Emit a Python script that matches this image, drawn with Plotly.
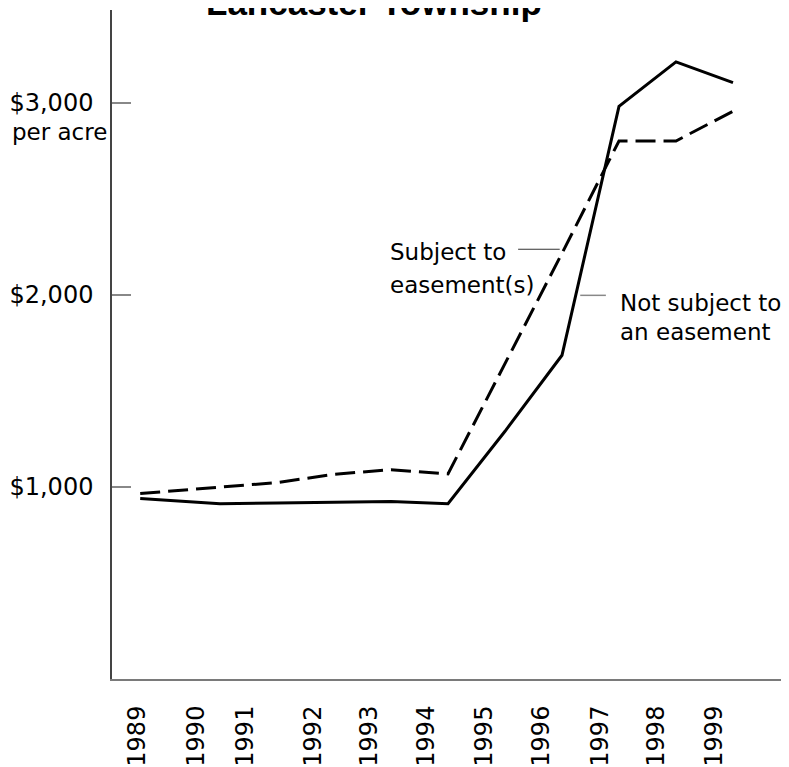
import plotly.graph_objects as go

# ---- data ----
years = ["1989", "1990", "1991", "1992", "1993", "1994", "1995", "1996", "1997", "1998", "1999"]
year_pos = [1988.6, 1990, 1991, 1992, 1993, 1994, 1995, 1996, 1997, 1998, 1999]
not_subject = [940, 913, 917, 920, 925, 913, 1290, 1686, 2982, 3214, 3106]
subject = [966, 997, 1023, 1066, 1090, 1068, 1644, 2217, 2802, 2802, 2957]
tick_pos = [1988.54, 1989.58, 1990.44, 1991.63, 1992.61, 1993.61, 1994.63, 1995.63, 1996.67, 1997.65, 1998.67]
y_ticks = [1000, 2000, 3000]
y_tick_text = ["$1,000", "$2,000", "$3,000"]

FONT = "DejaVu Sans"

fig = go.Figure()
fig.add_trace(go.Scatter(x=year_pos, y=subject, mode="lines",
                         line=dict(color="black", width=3, dash="20px,8px"),
                         name="Subject to easement(s)", showlegend=False))
fig.add_trace(go.Scatter(x=year_pos, y=not_subject, mode="lines",
                         line=dict(color="black", width=3),
                         name="Not subject to an easement", showlegend=False))

fig.update_layout(
    width=789, height=767, autosize=False,
    margin=dict(l=104, r=13, t=2, b=96),
    plot_bgcolor="white", paper_bgcolor="white",
    font=dict(family=FONT, size=24, color="black"),
)
fig.update_xaxes(range=[1988.105, 1999.895], showgrid=False, zeroline=False,
                 showline=True, linecolor="#7a7a7a", linewidth=2,
                 tickmode="array", tickvals=tick_pos, ticktext=years,
                 tickangle=-90, ticks="", ticklabelstandoff=15,
                 tickfont=dict(family=FONT, size=24, color="black"))
fig.update_yaxes(range=[0, 3484], showgrid=False, zeroline=False,
                 showline=True, linecolor="#444444", linewidth=1.5,
                 tickmode="array", tickvals=y_ticks, ticktext=y_tick_text,
                 ticks="inside", ticklen=19, tickwidth=1.5, tickcolor="#888888",
                 ticklabelstandoff=12,
                 tickfont=dict(family=FONT, size=24, color="black"))

# title (partly cut off at top, as in the reference)
fig.add_annotation(text="<b>Lancaster Township</b>", xref="paper", yref="paper",
                   x=0.39, y=1.011, xanchor="center", yanchor="middle", showarrow=False,
                   font=dict(family="Liberation Sans", size=35, color="black"))
fig.add_annotation(text="per acre", xref="paper", yref="y", x=-0.152, y=2849,
                   xanchor="left", yanchor="middle", showarrow=False,
                   font=dict(family=FONT, size=23, color="black"))

# series labels
fig.add_annotation(text="Subject to", x=1992.95, y=2222, xanchor="left", yanchor="middle",
                   showarrow=False, font=dict(family=FONT, size=23, color="black"))
fig.add_annotation(text="easement(s)", x=1992.95, y=2050, xanchor="left", yanchor="middle",
                   showarrow=False, font=dict(family=FONT, size=23, color="black"))
fig.add_annotation(text="Not subject to", x=1996.98, y=1957, xanchor="left", yanchor="middle",
                   showarrow=False, font=dict(family=FONT, size=23, color="black"))
fig.add_annotation(text="an easement", x=1996.98, y=1806, xanchor="left", yanchor="middle",
                   showarrow=False, font=dict(family=FONT, size=23, color="black"))

fig.add_shape(type="line", xref="x", yref="y", x0=1995.23, x1=1995.96, y0=2238, y1=2238,
              line=dict(color="#333333", width=1.2))
fig.add_shape(type="line", xref="x", yref="y", x0=1996.32, x1=1996.77, y0=1998, y1=1998,
              line=dict(color="#888888", width=1.5))

fig.write_html("out.html")
